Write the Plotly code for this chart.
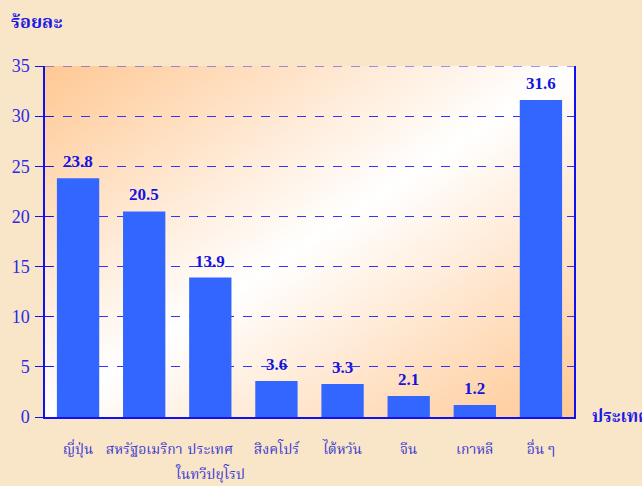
import base64
import plotly.graph_objects as go

categories = ["ญี่ปุ่น", "สหรัฐอเมริกา", "ประเทศในทวีปยุโรป", "สิงคโปร์", "ไต้หวัน", "จีน", "เกาหลี", "อื่น ๆ"]
tick_line1 = ["ญี่ปุ่น", "สหรัฐอเมริกา", "ประเทศ", "สิงคโปร์", "ไต้หวัน", "จีน", "เกาหลี", "อื่น ๆ"]
tick_line2 = ["", "", "ในทวีปยุโรป", "", "", "", "", ""]
values = [23.8, 20.5, 13.9, 3.6, 3.3, 2.1, 1.2, 31.6]
value_labels = ["23.8", "20.5", "13.9", "3.6", "3.3", "2.1", "1.2", "31.6"]
y_ticks = [0, 5, 10, 15, 20, 25, 30, 35]

SERIF = "Liberation Serif, Times New Roman, serif"
THAI = "Noto Serif Thai, Noto Sans Thai, Liberation Serif, serif"
TICK_FONT = dict(family=THAI, size=14, color="#3A3AD0")

svg = (
    "<svg xmlns='http://www.w3.org/2000/svg' width='200' height='200' viewBox='0 0 200 200' "
    "preserveAspectRatio='none'><defs><linearGradient id='g' x1='0' y1='0' x2='1' y2='1'>"
    "<stop offset='0' stop-color='#FFC893'/><stop offset='0.5' stop-color='#FFFFFF'/>"
    "<stop offset='1' stop-color='#FFC893'/></linearGradient></defs>"
    "<rect width='200' height='200' fill='url(#g)'/></svg>"
)
svg_uri = "data:image/svg+xml;base64," + base64.b64encode(svg.encode()).decode()

fig = go.Figure()
fig.add_trace(go.Bar(
    x=categories, y=values,
    marker=dict(color="#3366FF", line=dict(width=0)),
    hoverinfo="x+y",
))
# invisible companion trace so the inner tick axis is drawn
fig.add_trace(go.Scatter(
    x=categories, y=values, yaxis="y2", mode="markers",
    marker=dict(opacity=0), hoverinfo="skip", showlegend=False,
))

for c, v, t in zip(categories, values, value_labels):
    fig.add_annotation(
        x=c, y=v, xref="x", yref="y", text="<b>" + t + "</b>",
        showarrow=False, yanchor="bottom", yshift=5,
        font=dict(family=SERIF, size=17, color="#1414E0"),
    )

# second line of multi-line category labels
for c, t in zip(categories, tick_line2):
    if t:
        fig.add_annotation(
            x=c, y=0, xref="x", yref="paper", text=t, showarrow=False,
            yanchor="middle", yshift=-58, font=TICK_FONT,
        )

fig.add_annotation(
    xref="paper", yref="paper", x=-0.068, y=1.12, xanchor="left", yanchor="middle",
    text="<b>ร้อยละ</b>", showarrow=False,
    font=dict(family=THAI, size=18, color="#1A1AE6"),
)
fig.add_annotation(
    xref="paper", yref="paper", x=1.03, y=0.0, xanchor="left", yanchor="middle",
    text="<b>ประเทศ</b>", showarrow=False,
    font=dict(family=THAI, size=17, color="#1A1AE6"),
)

# dashed top gridline at 35
fig.add_shape(type="line", xref="paper", yref="y", x0=0, x1=1, y0=35, y1=35,
              line=dict(color="#3333FF", width=1, dash="dash"), layer="below")

fig.add_layout_image(
    source=svg_uri, xref="paper", yref="paper", x=0, y=1, sizex=1, sizey=1,
    sizing="stretch", layer="below", xanchor="left", yanchor="top",
)

fig.update_layout(
    width=642, height=486,
    margin=dict(l=45, r=68, t=66, b=69),
    paper_bgcolor="#F9E5C8",
    plot_bgcolor="rgba(0,0,0,0)",
    showlegend=False,
    bargap=0.36,
    xaxis=dict(
        tickmode="array", tickvals=categories, ticktext=tick_line1,
        tickangle=0, showgrid=False, showline=True, linecolor="#1010F0", linewidth=2,
        ticks="", ticklabelstandoff=18, automargin=False,
        tickfont=TICK_FONT,
    ),
    yaxis=dict(
        range=[0, 35], tickmode="array", tickvals=y_ticks,
        showgrid=True, gridcolor="#3333FF", griddash="dash", gridwidth=1,
        showline=True, linecolor="#1010F0", linewidth=1.5, mirror=True,
        ticks="outside", ticklen=8, tickcolor="#1010F0", automargin=False,
        zeroline=False, ticklabelstandoff=2,
        tickfont=dict(family=SERIF, size=18, color="#2A2AE6"),
    ),
    yaxis2=dict(
        range=[0, 35], tickmode="array", tickvals=y_ticks, overlaying="y", anchor="x",
        side="left", showgrid=False, showline=False, zeroline=False,
        ticks="inside", ticklen=8, tickcolor="#1010F0", showticklabels=False,
        automargin=False,
    ),
)

fig.write_html(
    "out.html",
    config={"displayModeBar": False},
    post_script="document.body.style.margin='0';document.body.style.overflow='hidden';",
)
